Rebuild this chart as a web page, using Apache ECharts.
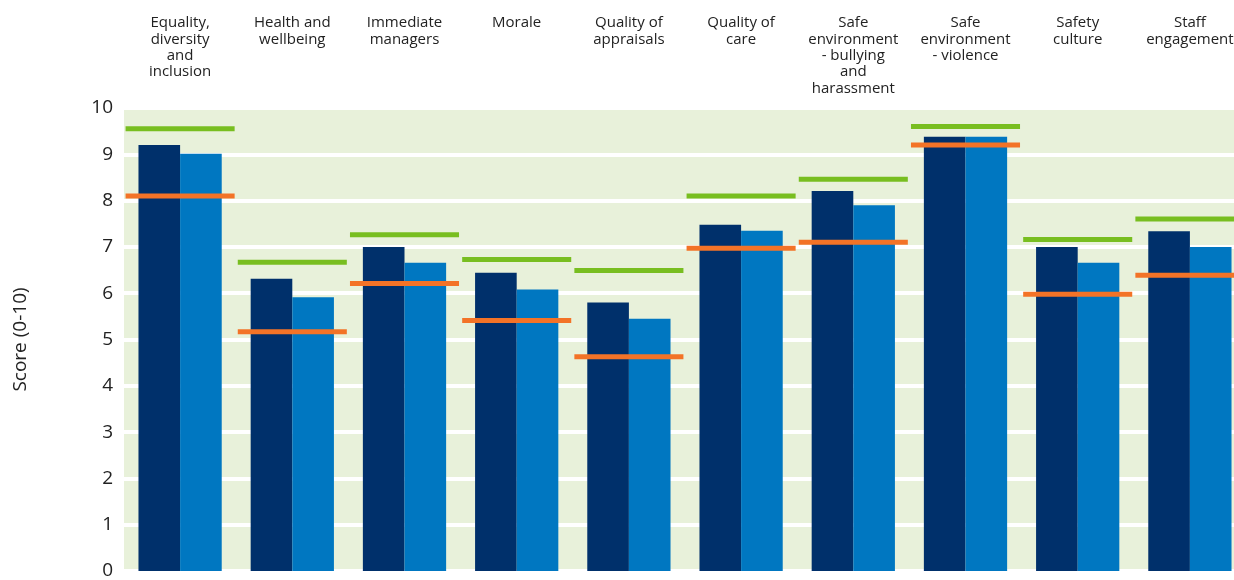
<!DOCTYPE html>
<html>
<head>
<meta charset="utf-8">
<script src="https://cdn.jsdelivr.net/npm/echarts@6/dist/echarts.min.js"></script>
<style>
html,body{margin:0;padding:0;background:#fff;overflow:hidden;}
#chart{width:1234px;height:580px;}
</style>
</head>
<body>
<div id="chart"></div>
<script>
const categories = [
  "Equality,\ndiversity\nand\ninclusion",
  "Health and\nwellbeing",
  "Immediate\nmanagers",
  "Morale",
  "Quality of\nappraisals",
  "Quality of\ncare",
  "Safe\nenvironment\n- bullying\nand\nharassment",
  "Safe\nenvironment\n- violence",
  "Safety\nculture",
  "Staff\nengagement"
];
const yTicks = [0, 1, 2, 3, 4, 5, 6, 7, 8, 9, 10];
const darkScores  = [9.20, 6.31, 7.00, 6.44, 5.80, 7.48, 8.21, 9.38, 7.00, 7.34];
const lightScores = [9.01, 5.91, 6.66, 6.08, 5.45, 7.35, 7.90, 9.38, 6.66, 7.00];
const bestScores  = [9.55, 6.67, 7.26, 6.73, 6.49, 8.10, 8.46, 9.60, 7.16, 7.60];
const worstScores = [8.10, 5.17, 6.21, 5.41, 4.63, 6.97, 7.10, 9.20, 5.98, 6.39];

function markerSeries(name, data, color) {
  return {
    name: name,
    type: 'custom',
    z: 5,
    data: data.map((v, i) => [i, v]),
    renderItem: function (params, api) {
      const p = api.coord([api.value(0), api.value(1)]);
      const band = api.size([1, 0])[0];
      const w = band * 0.972;
      const h = 5;
      return {
        type: 'rect',
        shape: { x: p[0] - w / 2, y: p[1] - h / 2, width: w, height: h },
        style: { fill: color }
      };
    }
  };
}

const chart = echarts.init(document.getElementById('chart'), null, { renderer: 'canvas' });
chart.setOption({
  animation: false,
  textStyle: { fontFamily: 'Open Sans' },
  grid: {
    left: 124, width: 1122, top: 108, height: 463,
    containLabel: false,
    outerBoundsMode: 'none',
    show: true, backgroundColor: '#e8f1da', borderWidth: 0
  },
  xAxis: {
    type: 'category',
    position: 'top',
    data: categories,
    axisLine: { show: false },
    axisTick: { show: false },
    axisLabel: {
      interval: 0,
      margin: 93,
      verticalAlign: 'top',
      align: 'center',
      fontSize: 15,
      lineHeight: 16.3,
      color: '#222',
      fontFamily: 'Open Sans'
    }
  },
  yAxis: {
    type: 'value',
    min: 0, max: 10, interval: 1,
    name: 'Score (0-10)',
    nameLocation: 'middle',
    nameGap: 94,
    nameTextStyle: { fontSize: 19, color: '#222', fontFamily: 'Open Sans' },
    axisLine: { show: false },
    axisTick: { show: false },
    axisLabel: {
      fontSize: 19, color: '#222', margin: 11, fontFamily: 'Open Sans',
      formatter: function (v) { return yTicks.indexOf(v) >= 0 ? String(v) : ''; }
    },
    splitLine: { show: true, lineStyle: { color: '#ffffff', width: 4 } }
  },
  series: [
    {
      name: 'Organisation', type: 'bar', data: darkScores,
      itemStyle: { color: '#00306b' },
      barGap: '0%', barCategoryGap: '25.8%', z: 2
    },
    {
      name: 'Comparison', type: 'bar', data: lightScores,
      itemStyle: { color: '#0077c1' },
      barGap: '0%', barCategoryGap: '25.8%', z: 2
    },
    markerSeries('Best', bestScores, '#78be20'),
    markerSeries('Worst', worstScores, '#f37327')
  ]
});
</script>
</body>
</html>
